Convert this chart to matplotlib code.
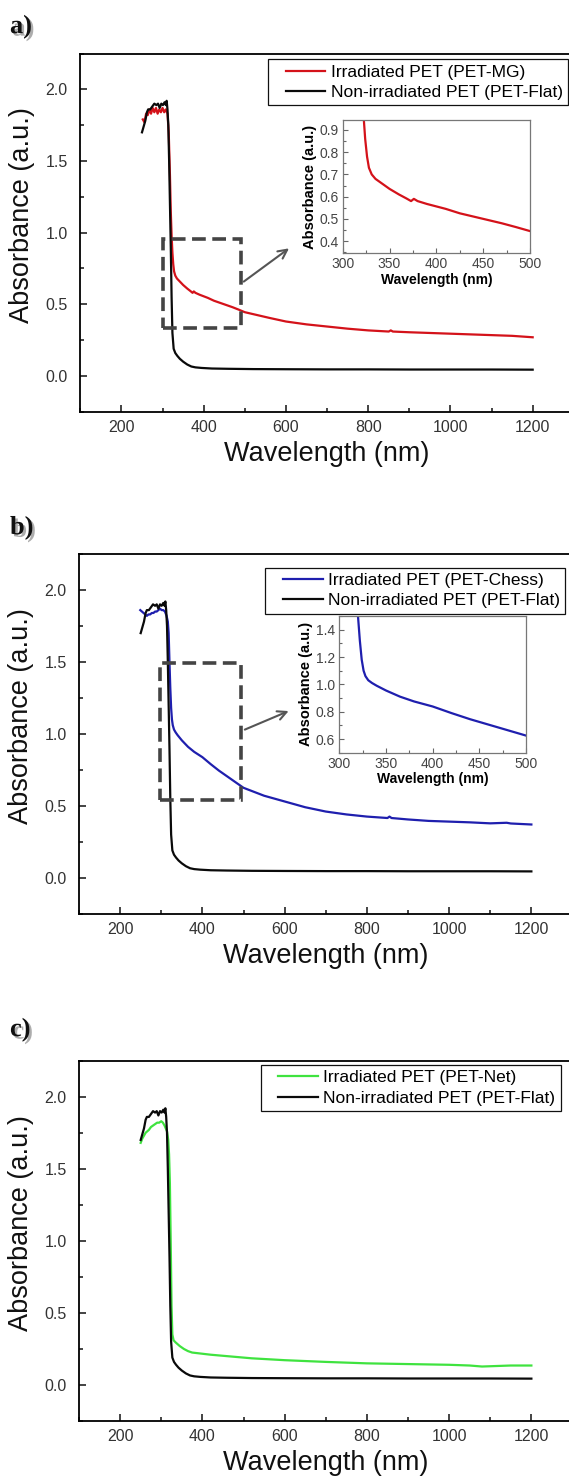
import matplotlib
matplotlib.use("Agg")
import matplotlib.pyplot as plt
import matplotlib.patheffects as pe
from matplotlib.patches import Rectangle
from matplotlib.lines import Line2D
from matplotlib.legend_handler import HandlerLine2D
from matplotlib.ticker import MultipleLocator

# ---- data ----
FLAT_WL = [250, 254, 258, 262, 265, 270, 275, 280, 285, 289, 293, 297, 301, 305, 308, 310,
           312, 314, 316, 318, 320, 322, 324, 327, 331, 336, 342, 350, 360, 370, 380, 395,
           420, 460, 520, 600, 700, 800, 900, 1000, 1100, 1200]
FLAT_ABS = [1.70, 1.74, 1.78, 1.84, 1.86, 1.86, 1.88, 1.90, 1.89, 1.90, 1.87, 1.90, 1.89, 1.91,
            1.89, 1.92, 1.86, 1.75, 1.50, 1.20, 0.90, 0.55, 0.30, 0.19, 0.16, 0.14, 0.12, 0.10,
            0.08, 0.066, 0.060, 0.056, 0.052, 0.050, 0.048, 0.047, 0.046, 0.046, 0.045, 0.045,
            0.045, 0.044]

MG_WL = [252, 256, 260, 264, 268, 272, 276, 280, 284, 288, 292, 296, 300, 304, 308, 312, 315,
         318, 320, 322, 324, 326, 328, 331, 335, 340, 345, 350, 360, 368, 373, 376, 380, 390,
         400, 410, 425, 440, 455, 470, 485, 500, 530, 560, 600, 650, 700, 750, 800, 850, 855,
         860, 900, 950, 1000, 1050, 1100, 1150, 1200]
MG_ABS = [1.79, 1.77, 1.83, 1.82, 1.86, 1.83, 1.87, 1.84, 1.87, 1.83, 1.86, 1.84, 1.87, 1.84,
          1.86, 1.83, 1.70, 1.40, 1.15, 0.98, 0.86, 0.78, 0.73, 0.70, 0.68, 0.665, 0.65, 0.635,
          0.61, 0.592, 0.580, 0.590, 0.580, 0.567, 0.556, 0.545, 0.525, 0.51, 0.495, 0.48,
          0.463, 0.445, 0.425, 0.405, 0.38, 0.36, 0.345, 0.33, 0.318, 0.31, 0.318, 0.31, 0.305,
          0.30, 0.295, 0.29, 0.285, 0.28, 0.27]

CHESS_WL = [249, 253, 257, 261, 265, 269, 273, 277, 281, 285, 289, 293, 297, 301, 305, 309,
            313, 316, 318, 320, 322, 324, 326, 328, 331, 335, 340, 350, 365, 380, 400, 420,
            440, 460, 480, 500, 550, 600, 650, 700, 750, 800, 850, 855, 860, 900, 950, 1000,
            1050, 1100, 1140, 1150, 1200]
CHESS_ABS = [1.86, 1.85, 1.84, 1.83, 1.82, 1.83, 1.83, 1.84, 1.84, 1.85, 1.85, 1.86, 1.87,
             1.86, 1.86, 1.85, 1.82, 1.78, 1.70, 1.50, 1.32, 1.18, 1.10, 1.06, 1.03, 1.01,
             0.99, 0.955, 0.91, 0.875, 0.838, 0.79, 0.745, 0.705, 0.665, 0.625, 0.57, 0.53,
             0.49, 0.46, 0.44, 0.425, 0.415, 0.425, 0.415, 0.405, 0.395, 0.39, 0.385, 0.378,
             0.382, 0.377, 0.37]

NET_WL = [250, 254, 258, 262, 266, 270, 275, 280, 285, 290, 295, 300, 304, 308, 311, 314,
          317, 319, 321, 323, 325, 327, 330, 335, 345, 355, 365, 375, 390, 420, 460, 520,
          600, 700, 800, 900, 1000, 1050, 1080, 1100, 1150, 1200]
NET_ABS = [1.68, 1.71, 1.73, 1.75, 1.76, 1.77, 1.79, 1.80, 1.81, 1.82, 1.82, 1.83, 1.82, 1.80,
           1.78, 1.76, 1.70, 1.60, 1.40, 1.00, 0.55, 0.35, 0.31, 0.295, 0.27, 0.25, 0.235,
           0.225, 0.22, 0.21, 0.20, 0.185, 0.172, 0.16, 0.15, 0.145, 0.14, 0.135, 0.128, 0.13,
           0.135, 0.135]

PANELS = ["a)", "b)", "c)"]
SAMPLE_LABELS = ["Irradiated PET (PET-MG)", "Irradiated PET (PET-Chess)", "Irradiated PET (PET-Net)"]
FLAT_LABEL = "Non-irradiated PET (PET-Flat)"

# zoom boxes (x0, x1, y0, y1) and arrow (start, end) for panels a and b
ZOOM_BOXES = [(302, 490, 0.337, 0.956), (297, 493, 0.54, 1.49)]
ARROWS = [((492, 0.647), (613, 0.902)), ((497, 1.022), (616, 1.166))]
INSET_YLIM = [(0.345, 0.945), (0.5, 1.5)]
INSET_YSTEP = [0.1, 0.2]

COLORS = {"MG": "#d4121a", "Chess": "#1f1fae", "Net": "#3fe33f", "Flat": "#0a0a0a"}

W, H = 569, 1479


def px_box(left, top, right, bottom):
    return [left / W, 1 - bottom / H, (right - left) / W, (bottom - top) / H]


MAIN_BOXES = [px_box(80.3, 53.5, 573.8, 411.8),
              px_box(79, 554, 572.5, 913.7),
              px_box(79, 1060.7, 572.5, 1421)]
INSET_BOXES = [px_box(342.7, 120, 530, 253.3), px_box(339.3, 616, 526.1, 752.7)]
LEGEND_ANCHORS = [(0.988, 0.984), (0.985, 0.962), (0.976, 0.988)]
LABEL_Y = [27, 528, 1030]

plt.rcParams["font.family"] = ["Liberation Sans", "DejaVu Sans"]


def style_main(ax):
    ax.set_xlim(100, 1300)
    ax.set_ylim(-0.25, 2.25)
    ax.xaxis.set_major_locator(MultipleLocator(200))
    ax.xaxis.set_minor_locator(MultipleLocator(100))
    ax.yaxis.set_major_locator(MultipleLocator(0.5))
    ax.yaxis.set_minor_locator(MultipleLocator(0.25))
    ax.tick_params(which="both", direction="in", width=1.1, colors="#111", labelcolor="#333",
                   labelsize=11.5)
    ax.tick_params(which="major", length=5)
    ax.tick_params(which="minor", length=3)
    ax.tick_params(axis="x", pad=6)
    ax.tick_params(axis="y", pad=9)
    for sp in ax.spines.values():
        sp.set_linewidth(1.3)
    ax.set_xlabel("Wavelength (nm)", fontsize=19.5, labelpad=4, color="#111")
    ax.set_ylabel("Absorbance (a.u.)", fontsize=19.5, color="#111")
    ax.yaxis.set_label_coords(-0.092, 0.55)


def style_inset(ax, ylim, ystep):
    ax.set_xlim(300, 500)
    ax.set_ylim(*ylim)
    ax.xaxis.set_major_locator(MultipleLocator(50))
    ax.xaxis.set_minor_locator(MultipleLocator(25))
    ax.yaxis.set_major_locator(MultipleLocator(ystep))
    ax.yaxis.set_minor_locator(MultipleLocator(ystep / 2))
    ax.tick_params(which="both", direction="in", width=0.8, colors="#666", labelcolor="#444",
                   labelsize=10, pad=3)
    ax.tick_params(which="major", length=3.5)
    ax.tick_params(which="minor", length=2)
    for sp in ax.spines.values():
        sp.set_linewidth(0.9)
        sp.set_color("#777")
    ax.set_xlabel("Wavelength (nm)", fontsize=10, fontweight="bold", labelpad=1)
    ax.set_ylabel("Absorbance (a.u.)", fontsize=10.5, fontweight="bold", labelpad=2)


def draw_panel(fig, i, wl, ab, color):
    ax = fig.add_axes(MAIN_BOXES[i])
    ax.plot(wl, ab, color=color, lw=1.6, label=SAMPLE_LABELS[i])
    ax.plot(FLAT_WL, FLAT_ABS, color=COLORS["Flat"], lw=1.6, label=FLAT_LABEL)
    style_main(ax)
    leg = ax.legend(loc="upper right", bbox_to_anchor=LEGEND_ANCHORS[i], fontsize=12.5,
                    frameon=True, fancybox=False, edgecolor="#111", framealpha=1,
                    borderaxespad=0, borderpad=0.3, labelspacing=0.3, handlelength=3.0,
                    handletextpad=0.3,
                    handler_map={Line2D: HandlerLine2D(xpad=0.7)})
    leg.get_frame().set_linewidth(0.9)

    if i < 2:
        x0, x1, y0, y1 = ZOOM_BOXES[i]
        ax.add_patch(Rectangle((x0, y0), x1 - x0, y1 - y0, fill=False, edgecolor="#444",
                               lw=2.6, ls=(0, (3.8, 1.8)), zorder=4))
        start, end = ARROWS[i]
        ax.annotate("", xy=end, xytext=start,
                    arrowprops=dict(arrowstyle="->", color="#555", lw=1.5, mutation_scale=16))
        ins = fig.add_axes(INSET_BOXES[i])
        ins.plot(wl, ab, color=color, lw=1.6)
        style_inset(ins, INSET_YLIM[i], INSET_YSTEP[i])

    fig.text(10 / W, 1 - LABEL_Y[i] / H, PANELS[i], fontsize=19, fontweight="bold",
             family=["Liberation Serif", "DejaVu Serif"], va="center", ha="left", color="#111",
             path_effects=[pe.withSimplePatchShadow(offset=(1.8, -1.8), shadow_rgbFace="#777",
                                                    alpha=0.6)])
    return ax


if __name__ == "__main__":
    fig = plt.figure(figsize=(W / 100, H / 100), dpi=100)
    draw_panel(fig, 0, MG_WL, MG_ABS, COLORS["MG"])
    draw_panel(fig, 1, CHESS_WL, CHESS_ABS, COLORS["Chess"])
    draw_panel(fig, 2, NET_WL, NET_ABS, COLORS["Net"])
    fig.savefig("out.png", dpi=100, facecolor="white")
    plt.close(fig)
